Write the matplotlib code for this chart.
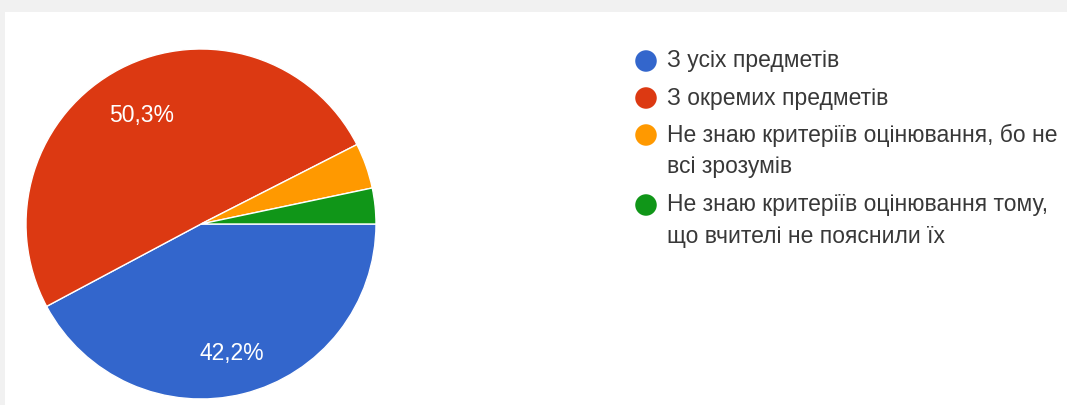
import matplotlib.pyplot as plt
from matplotlib.patches import Rectangle

# дані
labels = [['З усіх предметів'],
          ['З окремих предметів'],
          ['Не знаю критеріїв оцінювання, бо не', 'всі зрозумів'],
          ['Не знаю критеріїв оцінювання тому,', 'що вчителі не пояснили їх']]
values = [42.2, 50.3, 4.2, 3.3]
colors = ['#3366cc', '#dc3912', '#ff9900', '#109618']

plt.rcParams['font.family'] = ['Liberation Sans', 'DejaVu Sans']

fig = plt.figure(figsize=(10.67, 4.05), dpi=100)
fig.patch.set_facecolor('#f1f1f1')

# шар у пікселях для фону й легенди
lay = fig.add_axes([0, 0, 1, 1])
lay.set_xlim(0, 1067); lay.set_ylim(405, 0)
lay.axis('off')
lay.add_patch(Rectangle((5, 12), 1062, 393, facecolor='white', edgecolor='none'))

ax = fig.add_axes([26/1067, 6/405, 350/1067, 350/405])
ax.set_facecolor('none')

def fmt(p):
    if p < 10:
        return ''
    return ('%.1f' % p).replace('.', ',') + '%'

wedges, texts, autotexts = ax.pie(values, colors=colors, startangle=0, counterclock=False,
                                  autopct=fmt, pctdistance=0.73,
                                  wedgeprops=dict(edgecolor='white', linewidth=1))
for t in autotexts:
    t.set_color('white')
    t.set_fontsize(16.5)
    x, y = t.get_position()
    t.set_position((x, y - 0.03))  # трохи нижче, як у Google Forms
ax.set_xlim(-1, 1); ax.set_ylim(-1, 1)
ax.set_aspect('equal')

# легенда вручну
ys = [61, 98, 135, 205]
for i in range(len(labels)):
    lay.scatter([646], [ys[i]], s=240, color=colors[i], edgecolors='none')
    for j, line in enumerate(labels[i]):
        lay.text(667, ys[i] + 32*j, line, fontsize=16.5, color='#383838',
                 va='center', ha='left')

fig.savefig('out.png', dpi=100, facecolor=fig.get_facecolor())
